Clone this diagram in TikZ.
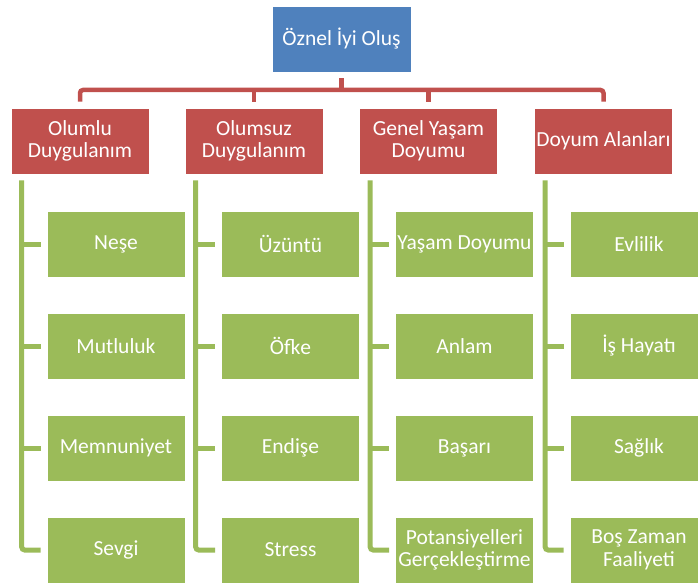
\documentclass[tikz,border=0pt]{standalone}
\usepackage{fontspec}
\setmainfont{Carlito}
\definecolor{topblue}{HTML}{4F81BD}
\definecolor{boxred}{HTML}{C0504D}
\definecolor{boxgreen}{HTML}{9BBB59}
\begin{document}
\begin{tikzpicture}[x=1pt,y=-1pt,
  basebox/.style={minimum width=138pt,minimum height=66pt,inner sep=1pt,align=center,
     text=white,font=\fontsize{21.5}{22.5}\selectfont,draw=white,line width=0.6pt},
  topbox/.style={basebox,fill=topblue,minimum width=139pt},
  redbox/.style={basebox,fill=boxred},
  greenbox/.style={basebox,fill=boxgreen},
  redline/.style={draw=boxred,line width=4.5pt,rounded corners=3pt},
  greenline/.style={draw=boxgreen,line width=5pt,rounded corners=3pt}]
\useasboundingbox (0,0) rectangle (698,583);
\clip (0,0) rectangle (698,583);
% top
\node[topbox] (top) at (341.5,39) {Öznel İyi Oluş};
% red
\node[redbox] (r1) at (80,141) {Olumlu\\Duygulanım};
\node[redbox] (r2) at (254,141) {Olumsuz\\Duygulanım};
\node[redbox] (r3) at (428.5,141) {Genel Yaşam\\Doyumu};
\node[redbox] (r4) at (603.5,141) {Doyum Alanları};
% green
\node[greenbox] (g11) at (116,244) {Neşe};
\node[greenbox] (g12) at (116,346) {Mutluluk};
\node[greenbox] (g13) at (116,448) {Memnuniyet};
\node[greenbox] (g14) at (116,550) {Sevgi};
\node[greenbox] (g21) at (290.5,244) {Üzüntü};
\node[greenbox] (g22) at (290.5,346) {Öfke};
\node[greenbox] (g23) at (290.5,448) {Endişe};
\node[greenbox] (g24) at (290.5,550) {Stress};
\node[greenbox] (g31) at (464.5,244) {Yaşam Doyumu};
\node[greenbox] (g32) at (464.5,346) {Anlam};
\node[greenbox] (g33) at (464.5,448) {Başarı};
\node[greenbox] (g34) at (464.5,550) {Potansiyelleri\\Gerçekleştirme};
\node[greenbox] (g41) at (639,244) {Evlilik};
\node[greenbox] (g42) at (639,346) {İş Hayatı};
\node[greenbox] (g43) at (639,448) {Sağlık};
\node[greenbox] (g44) at (639,550) {Boş Zaman\\Faaliyeti};
% red connectors
\coordinate (bar) at (341.5,90);
\draw[redline] ([yshift=-6pt]top.south) -- (bar);
\draw[redline] ([yshift=6pt]r1.north) -- (r1.north |- bar) -- (r4.north |- bar) -- ([yshift=6pt]r4.north);
\draw[redline] ([yshift=6pt]r2.north) -- (r2.north |- bar);
\draw[redline] ([yshift=6pt]r3.north) -- (r3.north |- bar);
% green connectors
\foreach \c in {1,2,3,4}{
  \coordinate (v\c) at ([xshift=11pt,yshift=-6pt]r\c.south west);
  \draw[greenline] (v\c) |- ([xshift=-6pt]g\c4.west);
  \foreach \k in {1,2,3}{
    \draw[greenline] (v\c |- g\c\k.west) -- ([xshift=-6pt]g\c\k.west);
  }
}
\end{tikzpicture}
\end{document}
